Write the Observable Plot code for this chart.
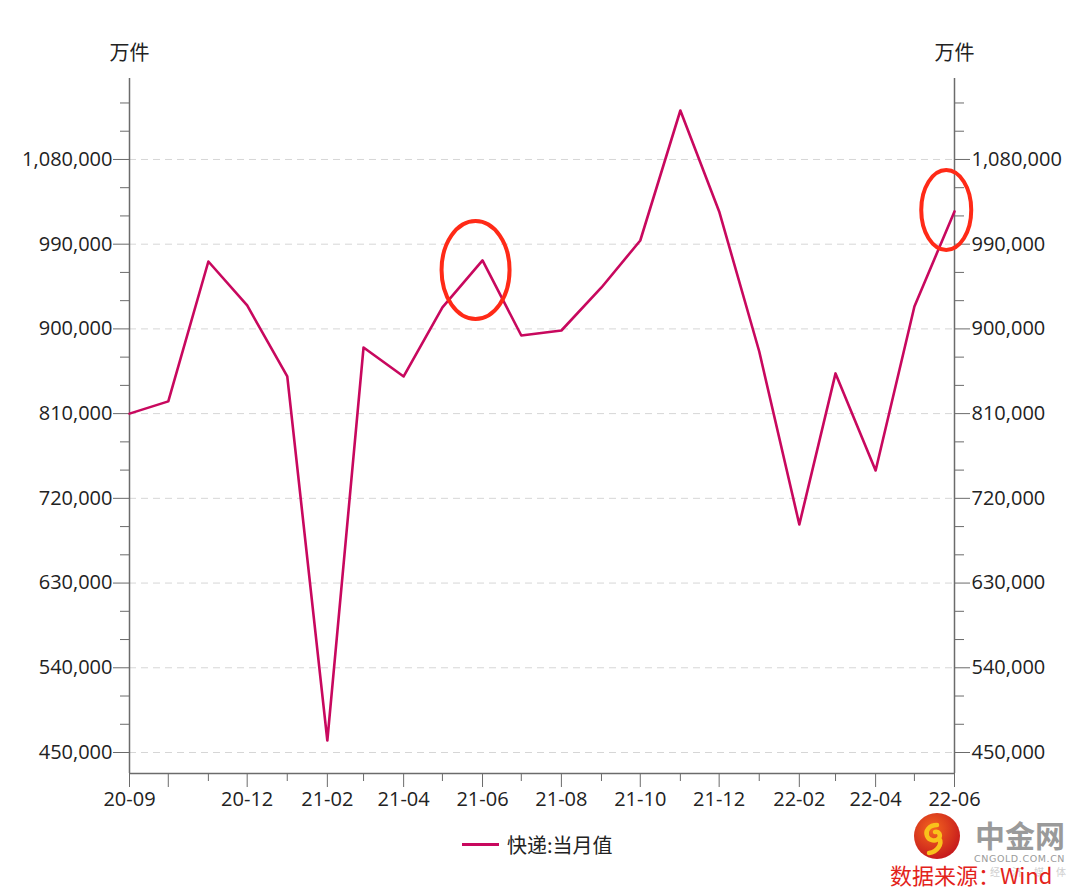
<!DOCTYPE html>
<html>
<head>
<meta charset="utf-8">
<script src="https://cdn.jsdelivr.net/npm/d3@7"></script>
<script src="https://cdn.jsdelivr.net/npm/@observablehq/plot@0.6"></script>
<style>
  html, body { margin: 0; padding: 0; background: #fff; }
  #wrap { position: relative; width: 1080px; height: 889px; overflow: hidden; font-family: "Open Sans", "Noto Sans CJK SC", sans-serif; }
  #legend { position: absolute; left: 462px; top: 827px; height: 34px; display: flex; align-items: center; font-size: 20px; color: #222; font-family: "Noto Sans CJK SC", sans-serif; }
  #legend .sw { width: 37px; height: 3px; background: #c8085e; margin-right: 8px; }
  #brand { position: absolute; left: 912px; top: 812px; width: 166px; height: 77px; }
  #source { position: absolute; left: 890px; top: 860px; font-size: 22px; color: #e3231b; font-family: "Noto Sans CJK SC", sans-serif; line-height: 28px; white-space: nowrap; }
</style>
</head>
<body>
<div id="wrap">
  <div id="chart"></div>
  <div id="legend"><div class="sw"></div><span id="legendText"></span></div>
  <svg id="brand" width="166" height="77" viewBox="0 0 166 77">
    <defs>
      <radialGradient id="lg" cx="40%" cy="35%" r="70%">
        <stop offset="0%" stop-color="#f4661f"/>
        <stop offset="100%" stop-color="#c4161c"/>
      </radialGradient>
    </defs>
    <circle cx="25" cy="24" r="23" fill="url(#lg)"/>
    <path d="M25 13 c-8 0 -12 6 -10 11 c2 5 9 6 12 2 c2 -3 0 -7 -4 -6 M27 26 c4 6 -2 14 -10 15" fill="none" stroke="#f9c21b" stroke-width="4.5" stroke-linecap="round"/>
    <text x="63" y="35" font-size="30" font-weight="700" fill="#9a9a9a" font-family="Noto Sans CJK SC">中金网</text>
    <text x="62" y="50" font-size="9.5" fill="#9a9a9a" font-family="DejaVu Sans" letter-spacing="0.6">CNGOLD.COM.CN</text>
    <text x="78" y="64" font-size="10" fill="#d0d0d0" font-family="Noto Sans CJK SC" letter-spacing="12">经济媒体</text>
  </svg>
  <div id="source">数据来源：Wind</div>
</div>
<script>
// ---- data ----
const months = ["2020-09","2020-10","2020-11","2020-12","2021-01","2021-02","2021-03","2021-04","2021-05","2021-06","2021-07","2021-08","2021-09","2021-10","2021-11","2021-12","2022-01","2022-02","2022-03","2022-04","2022-05","2022-06"];
const values = [810000, 823000, 971600, 924900, 849500, 462700, 880300, 849500, 922800, 972700, 893000, 898300, 944000, 993900, 1132000, 1024800, 876000, 692200, 852700, 749600, 923800, 1024800];
const seriesName = "快递:当月值";
const unitLabel = "万件";
const yMajorTicks = [450000, 540000, 630000, 720000, 810000, 900000, 990000, 1080000];
const yMinorTicks = [480000, 510000, 570000, 600000, 660000, 690000, 750000, 780000, 840000, 870000, 930000, 960000, 1020000, 1050000, 1110000, 1140000];
const xLongTickMonths = ["2020-09","2020-10","2020-12","2021-02","2021-04","2021-06","2021-08","2021-10","2021-12","2022-02","2022-04","2022-06"];
const xHiddenLabelMonths = ["2020-10"];
const annotationDates = ["2021-05-27", "2022-05-26"];
const annotationValues = [962000, 1025800];
const yDomain = [427700, 1166000];

// ---- build ----
const parseMonth = s => new Date(Date.UTC(+s.slice(0, 4), +s.slice(5, 7) - 1, +(s.slice(8, 10) || 1)));
const data = months.map((m, i) => ({date: parseMonth(m), value: values[i]}));
const longTicks = xLongTickMonths.map(parseMonth);
const shortTicks = months.filter(m => !xLongTickMonths.includes(m)).map(parseMonth);
const hidden = new Set(xHiddenLabelMonths.map(m => +parseMonth(m)));
const fmtMonth = d => hidden.has(+d) ? "" : d3.utcFormat("%y-%m")(d);
const fmtNum = d3.format(",");
const xDomain = [parseMonth(months[0]), parseMonth(months[months.length - 1])];
const axisColor = "#6b6b6b";
const textColor = "#222";

const plot = Plot.plot({
  width: 1080,
  height: 828,
  marginLeft: 129,
  marginRight: 126,
  marginTop: 78,
  marginBottom: 55,
  style: {fontFamily: "'Open Sans', 'Noto Sans CJK SC', sans-serif", fontSize: "20px", color: textColor, background: "#fff", overflow: "visible"},
  x: {type: "utc", domain: xDomain},
  y: {domain: yDomain},
  marks: [
    Plot.gridY(yMajorTicks, {stroke: "#d6d6d6", strokeOpacity: 1, strokeDasharray: "7,5", strokeWidth: 1}),
    Plot.ruleX(xDomain, {stroke: axisColor, strokeWidth: 1.5}),
    Plot.ruleY([yDomain[0]], {stroke: axisColor, strokeWidth: 1.5}),
    Plot.axisY(yMajorTicks, {anchor: "left", tickSize: 16, tickPadding: 1, tickFormat: fmtNum, label: null, stroke: axisColor, fill: textColor, fontSize: 20}),
    Plot.axisY(yMinorTicks, {anchor: "left", tickSize: 9, tickFormat: () => "", label: null, stroke: axisColor}),
    Plot.axisY(yMajorTicks, {anchor: "right", tickSize: 15, tickPadding: 2, tickFormat: fmtNum, label: null, stroke: axisColor, fill: textColor, fontSize: 20}),
    Plot.axisY(yMinorTicks, {anchor: "right", tickSize: 9, tickFormat: () => "", label: null, stroke: axisColor}),
    Plot.axisX(longTicks, {anchor: "bottom", tickSize: 14, tickPadding: 4, tickFormat: fmtMonth, label: null, stroke: axisColor, fill: textColor, fontSize: 20}),
    Plot.axisX(shortTicks, {anchor: "bottom", tickSize: 8, tickFormat: () => "", label: null, stroke: axisColor}),
    Plot.line(data, {x: "date", y: "value", stroke: "#c8085e", strokeWidth: 2.6}),
    Plot.text([unitLabel], {text: d => d, frameAnchor: "top-left", dy: -33, textAnchor: "middle", fontSize: 20, fill: textColor, fontFamily: "'Noto Sans CJK SC', sans-serif"}),
    Plot.text([unitLabel], {text: d => d, frameAnchor: "top-right", dy: -33, textAnchor: "middle", fontSize: 20, fill: textColor, fontFamily: "'Noto Sans CJK SC', sans-serif"})
  ]
});

// red ellipse annotations positioned through the plot's scales
const xs = plot.scale("x"), ys = plot.scale("y");
const ellipseSizes = [[34, 49], [25, 40]];
const svg = d3.select(plot);
annotationDates.forEach((d, i) => {
  svg.append("ellipse")
    .attr("cx", xs.apply(parseMonth(d)))
    .attr("cy", ys.apply(annotationValues[i]))
    .attr("rx", ellipseSizes[i][0])
    .attr("ry", ellipseSizes[i][1])
    .attr("fill", "none")
    .attr("stroke", "#ff2a17")
    .attr("stroke-width", 4);
});

document.getElementById("chart").appendChild(plot);
document.getElementById("legendText").textContent = seriesName;
</script>
</body>
</html>
